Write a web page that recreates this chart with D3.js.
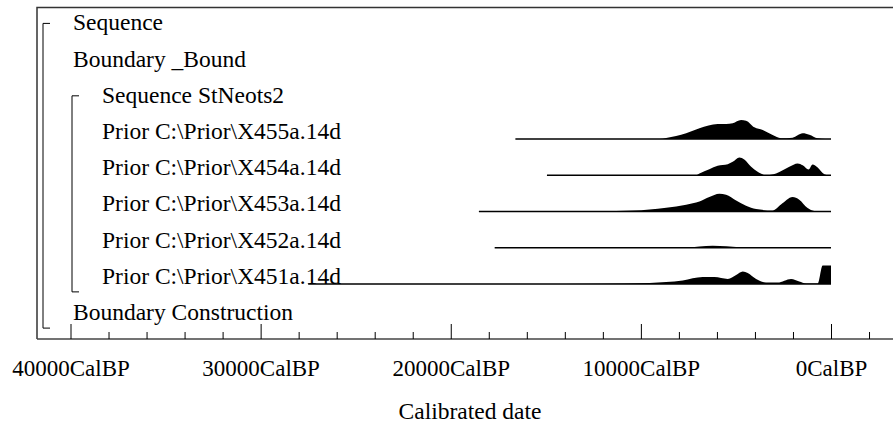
<!DOCTYPE html>
<html>
<head>
<meta charset="utf-8">
<script src="https://cdn.jsdelivr.net/npm/d3@7"></script>
<style>
  body { margin: 0; background: #fff; }
  svg text { font-family: "Liberation Serif", Tinos, "Times New Roman", Times, "Nimbus Roman", "DejaVu Serif", serif; fill: #000; }
</style>
</head>
<body>
<div class="chart"></div>
<script>
// OxCal style multiplot, dates in cal BP

var rowLabels = [
  'Sequence',
  'Boundary _Bound',
  'Sequence StNeots2',
  'Prior C:\\Prior\\X455a.14d',
  'Prior C:\\Prior\\X454a.14d',
  'Prior C:\\Prior\\X453a.14d',
  'Prior C:\\Prior\\X452a.14d',
  'Prior C:\\Prior\\X451a.14d',
  'Boundary Construction'
];
var rowLevels = [1, 1, 2, 2, 2, 2, 2, 2, 1];

var majorTicks = [40000, 30000, 20000, 10000, 0];
var tickLabels = ['40000CalBP', '30000CalBP', '20000CalBP', '10000CalBP', '0CalBP'];
var axisTitle = 'Calibrated date';

// each prior: years (cal BP) and relative probability
var x455Years = [16600, 9020, 8670, 7620, 6920, 5960, 5520, 5170, 4730, 4470, 4030, 3590, 3070, 2630, 2020, 1490, 1140, 700, 300, 0];
var x455Prob  = [0, 0, 0.05, 0.29, 0.54, 0.75, 0.75, 0.79, 0.95, 0.92, 0.59, 0.45, 0.2, 0.04, 0.07, 0.29, 0.22, 0.04, 0, 0];

var x454Years = [14940, 7090, 6920, 6400, 5960, 5430, 5170, 4820, 4560, 4200, 3860, 3420, 2890, 2190, 1750, 1490, 1180, 970, 700, 350, 140, 0];
var x454Prob  = [0, 0, 0.09, 0.3, 0.47, 0.55, 0.67, 0.89, 0.79, 0.42, 0.17, 0, 0.09, 0.42, 0.59, 0.5, 0.29, 0.54, 0.39, 0.05, 0, 0];

var x453Years = [18520, 14000, 12170, 10420, 8670, 7620, 6920, 6400, 5870, 5520, 4990, 4470, 3940, 3070, 2630, 2020, 1670, 1230, 880, 610, 0];
var x453Prob  = [0, 0, 0.02, 0.05, 0.19, 0.34, 0.5, 0.72, 0.89, 0.84, 0.55, 0.29, 0.12, 0.05, 0.35, 0.72, 0.59, 0.17, 0.02, 0, 0];

var x452Years = [17690, 8200, 7440, 6920, 6220, 5500, 4820, 4300, 0];
var x452Prob  = [0, 0, 0.02, 0.06, 0.1, 0.07, 0.02, 0, 0];

var x451Years = [27500, 16000, 12170, 9540, 7800, 6750, 6130, 5430, 4990, 4640, 4380, 3940, 3420, 2810, 2100, 1670, 1310, 700, 440, 0];
var x451Prob  = [0, 0, 0.01, 0.05, 0.17, 0.34, 0.34, 0.25, 0.45, 0.62, 0.54, 0.24, 0.07, 0.07, 0.25, 0.12, 0.02, 0.02, 0.92, 0.92];

var priors = [
  { row: 3, years: x455Years, prob: x455Prob },
  { row: 4, years: x454Years, prob: x454Prob },
  { row: 5, years: x453Years, prob: x453Prob },
  { row: 6, years: x452Years, prob: x452Prob },
  { row: 7, years: x451Years, prob: x451Prob }
];

var opts = {
  width: 893,
  height: 427,
  frameLeft: 37,
  frameTop: 7.5,
  axisY: 339,
  fontSize: 23.5
};

var svg = d3.select('.chart').append('svg')
  .attr('width', opts.width)
  .attr('height', opts.height);

var x = d3.scaleLinear().domain([40000, 0]).range([70.5, 831]);
var y = d3.scalePoint().domain(d3.range(rowLabels.length)).range([30.4, 320.1]);
var h = d3.scaleLinear().domain([0, 1]).range([0, 20]);

// frame
svg.append('path')
  .attr('d', 'M' + opts.frameLeft + ',' + opts.axisY + 'V' + opts.frameTop + 'H' + (opts.width + 5))
  .attr('fill', 'none')
  .attr('stroke', '#333')
  .attr('stroke-width', 1.5);

// brackets for the two sequences
var bracket = function(x0, r0, r1) {
  svg.append('path')
    .attr('d', 'M' + (x0 + 7) + ',' + (y(r0) - 7) + 'H' + x0 + 'V' + (y(r1) + 8) + 'H' + (x0 + 7))
    .attr('fill', 'none')
    .attr('stroke', '#000')
    .attr('stroke-width', 1);
};
bracket(43, 0, 8);
bracket(72, 2, 7);

// labels
svg.selectAll('text.row')
  .data(rowLabels)
  .enter().append('text')
  .attr('class', 'row')
  .attr('x', function(d, i) { return rowLevels[i] === 1 ? 73 : 102; })
  .attr('y', function(d, i) { return y(i); })
  .style('font-size', opts.fontSize + 'px')
  .text(function(d) { return d; });

// distributions
var area = d3.area()
  .x(function(d) { return x(d[0]); })
  .y0(0)
  .y1(function(d) { return -h(d[1]); })
  .curve(d3.curveMonotoneX);

priors.forEach(function(p) {
  var pts = p.years.map(function(yr, i) { return [yr, p.prob[i]]; });
  var g = svg.append('g').attr('transform', 'translate(0,' + y(p.row) + ')');
  g.append('path')
    .attr('d', area(pts))
    .attr('fill', '#000');
  g.append('line')
    .attr('x1', x(p.years[0]))
    .attr('x2', x(0))
    .attr('stroke', '#000')
    .attr('stroke-width', 1.5);
});

// axis
svg.append('line')
  .attr('x1', opts.frameLeft)
  .attr('x2', opts.width)
  .attr('y1', opts.axisY)
  .attr('y2', opts.axisY)
  .attr('stroke', '#444')
  .attr('stroke-width', 1.5);

var minorTicks = d3.range(-2000, 40001, 2000).filter(function(t) { return t % 10000 !== 0; });

var minorAxis = d3.axisBottom(x)
  .tickValues(minorTicks)
  .tickSize(-7)
  .tickFormat('');

var majorAxis = d3.axisBottom(x)
  .tickValues(majorTicks)
  .tickSize(-15)
  .tickPadding(21)
  .tickFormat(function(d, i) { return tickLabels[i]; });

var gMinor = svg.append('g').attr('transform', 'translate(0,' + opts.axisY + ')').call(minorAxis);
var gMajor = svg.append('g').attr('transform', 'translate(0,' + opts.axisY + ')').call(majorAxis);
gMinor.select('.domain').remove();
gMajor.select('.domain').remove();
gMinor.attr('font-family', null);
gMajor.attr('font-family', null);
svg.selectAll('.tick line').attr('stroke', '#000');
gMajor.selectAll('.tick text')
  .attr('fill', '#000')
  .style('font-size', '23px');

svg.append('text')
  .attr('x', 470)
  .attr('y', 419)
  .attr('text-anchor', 'middle')
  .style('font-size', opts.fontSize + 'px')
  .text(axisTitle);
</script>
</body>
</html>
